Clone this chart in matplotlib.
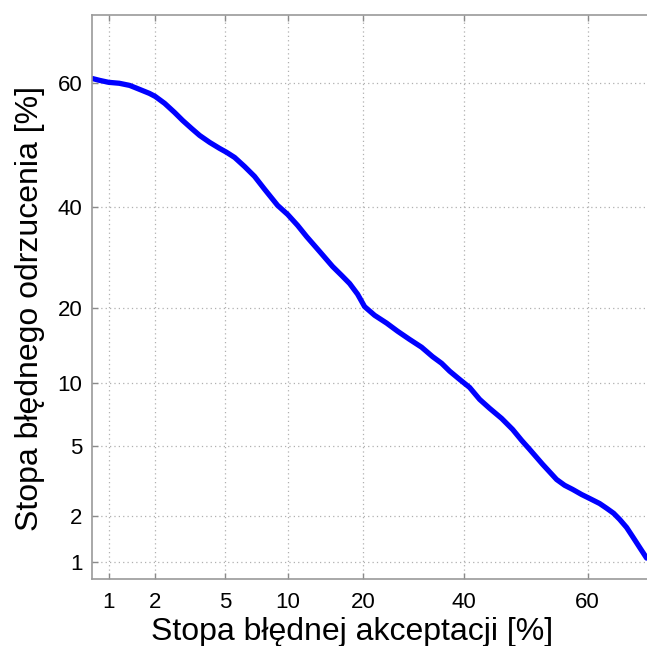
#!/usr/bin/env python3
"""DET curve (probit axes) - false acceptance vs false rejection rate."""
from statistics import NormalDist

import numpy as np
import matplotlib
matplotlib.use("Agg")
import matplotlib.pyplot as plt

# values (percent)
far_pct = [0.77, 0.87, 1.00, 1.18, 1.38, 1.60, 1.84, 2.0, 2.28, 2.61, 2.91,
           3.27, 3.63, 4.12, 4.66, 5.07, 5.58, 6.26, 7.01, 7.84, 9.00, 10.0,
           11.05, 12.07, 13.66, 15.39, 16.67, 17.86, 19.10, 20.23, 21.92,
           24.04, 26.08, 28.40, 30.82, 33.11, 35.04, 36.78, 39.00, 41.25,
           43.54, 45.84, 48.62, 51.18, 53.28, 55.12, 58.11, 61.26, 63.04,
           64.78, 66.71, 68.39, 70.44, 71.83, 73.19, 74.33, 75.63, 76.71,
           77.94, 79.13]
frr_pct = [69.0, 68.6, 68.2, 68.0, 67.55, 66.7, 65.86, 65.2, 63.7, 61.7, 59.9,
           58.1, 56.5, 54.9, 53.5, 52.6, 51.4, 49.3, 47.0, 44.0, 40.35, 38.3,
           35.9, 33.5, 30.4, 27.4, 25.7, 24.2, 22.3, 20.2, 18.8, 17.6, 16.4,
           15.25, 14.2, 13.0, 12.2, 11.3, 10.4, 9.58, 8.45, 7.67, 6.86, 6.05,
           5.32, 4.78, 3.97, 3.27, 3.03, 2.87, 2.68, 2.54, 2.37, 2.22, 2.07,
           1.90, 1.69, 1.48, 1.26, 1.07]

# tick positions (percent) and the labels shown on them
tick_pct = [1, 2, 5, 10, 20, 40, 68]
tick_labels = ["1", "2", "5", "10", "20", "40", "60"]
lim_pct = (0.77, 81.2)

_nd = NormalDist()


def probit(p_pct):
    return np.array([_nd.inv_cdf(v / 100.0) for v in np.atleast_1d(p_pct)])


plt.rcParams["font.family"] = ["Liberation Sans", "DejaVu Sans"]

fig = plt.figure(figsize=(6.47, 6.46), dpi=100)
ax = fig.add_axes([92 / 647, 67 / 646, 568 / 647, 564 / 646])

ax.plot(probit(far_pct), probit(frr_pct), color="#0000ff", linewidth=3.8,
        solid_capstyle="round", solid_joinstyle="round")

lo, hi = probit(lim_pct)
ax.set_xlim(lo, lo + 568 / 171.5)
ax.set_ylim(lo, lo + 564 / 171.5)

ax.set_xticks(probit(tick_pct))
ax.set_xticklabels(tick_labels)
ax.set_yticks(probit(tick_pct))
ax.set_yticklabels(tick_labels)

ax.grid(True, linestyle=(0, (1, 2.5)), color="#b0b0b0", linewidth=0.9)
for s in ax.spines.values():
    s.set_color("#9a9a9a")
    s.set_linewidth(1.2)
ax.tick_params(direction="in", length=4.5, width=1.0, color="#8a8a8a",
               labelsize=16, labelcolor="black", top=True, right=True)
ax.tick_params(axis="x", pad=9)
ax.tick_params(axis="y", pad=7)

ax.set_xlabel("Stopa błędnej akceptacji [%]", fontsize=23, labelpad=3)
ax.set_ylabel("Stopa błędnego odrzucenia [%]", fontsize=23, labelpad=9)
ax.xaxis.label.set_x(0.458)
ax.yaxis.label.set_y(0.479)

fig.savefig("out.png", dpi=100, facecolor="white")
plt.close(fig)
